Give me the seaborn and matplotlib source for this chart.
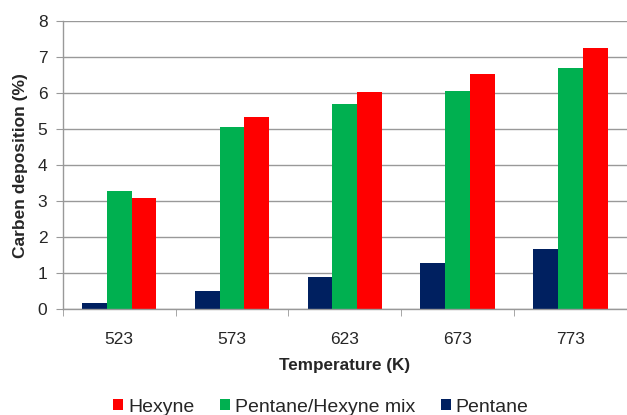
import matplotlib
matplotlib.use("Agg")
import matplotlib.pyplot as plt
import seaborn as sns
import pandas as pd
import numpy as np

temps = ["523", "573", "623", "673", "773"]
pentane = [0.18, 0.51, 0.90, 1.28, 1.67]
mix = [3.29, 5.06, 5.71, 6.06, 6.69]
hexyne = [3.10, 5.34, 6.04, 6.53, 7.25]
series = ["Pentane", "Pentane/Hexyne mix", "Hexyne"]
colors = {"Pentane": "#002060", "Pentane/Hexyne mix": "#00B050", "Hexyne": "#FF0000"}

rows = []
for name, vals in zip(series, [pentane, mix, hexyne]):
    for t, v in zip(temps, vals):
        rows.append({"Temperature": t, "Series": name, "Value": v})
df = pd.DataFrame(rows)

sns.set_style("white")
plt.rcParams['font.family'] = ['Liberation Sans', 'DejaVu Sans']

fig = plt.figure(figsize=(6.27, 4.15), dpi=100)
ax = fig.add_axes([62.7/627, 1 - 309.3/415, (627 - 62.7)/627, (309.3 - 21)/415])

sns.barplot(data=df, x="Temperature", y="Value", hue="Series", order=temps,
            hue_order=series, palette=colors, width=0.66, saturation=1,
            edgecolor="none", linewidth=0, ax=ax, legend=True)

ax.set_ylim(0, 8)
ax.set_xlim(-0.5, 4.5)
ax.set_yticks(range(0, 9))
ax.yaxis.grid(True, color="#999999", linewidth=1)
ax.set_axisbelow(True)
for s in ["top", "right"]:
    ax.spines[s].set_visible(False)
for s in ["left", "bottom"]:
    ax.spines[s].set_color("#999999")
    ax.spines[s].set_linewidth(1)

ax.tick_params(axis="y", which="major", length=5, color="#999999", labelsize=12.5, pad=6, left=True)
ax.tick_params(axis="x", which="major", length=0, labelsize=12.5, pad=16)
ax.set_xticks(np.arange(-0.5, 5.0, 1.0), minor=True)
ax.tick_params(axis="x", which="minor", length=5, color="#999999", bottom=True)

ax.set_xlabel("Temperature (K)", fontsize=12.3, fontweight="bold", labelpad=8)
ax.set_ylabel("Carben deposition (%)", fontsize=12.5, fontweight="bold", labelpad=7)

handles, labels = ax.get_legend_handles_labels()
ax.get_legend().remove()
fig.legend(handles[::-1], labels[::-1], loc="center", bbox_to_anchor=(0.512, 1 - 407/415),
           ncol=3, frameon=False, fontsize=14, handlelength=0.52, handleheight=0.52,
           handletextpad=0.26, columnspacing=1.3, borderpad=0, borderaxespad=0)

fig.savefig("out.png", dpi=100)
